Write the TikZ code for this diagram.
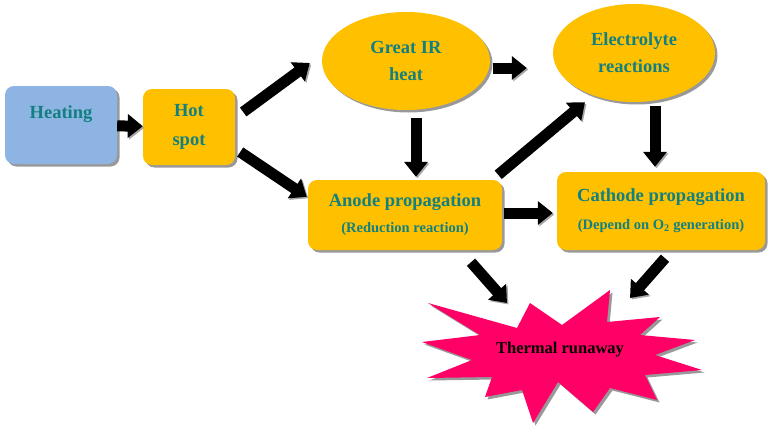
\documentclass[tikz,border=0pt]{standalone}
\usepackage{fontspec}
\setmainfont{Liberation Serif}
\usetikzlibrary{arrows.meta,calc,shapes.geometric,shadows}
\definecolor{boxgold}{RGB}{255,192,0}
\definecolor{heatblue}{RGB}{141,180,226}
\definecolor{labelteal}{RGB}{18,128,128}
\definecolor{burstpink}{RGB}{255,0,102}
\begin{document}
\begin{tikzpicture}[x=1pt,y=-1pt,
  boxshadow/.style={drop shadow={shadow xshift=2.5pt,shadow yshift=-2.5pt,fill=black!40,opacity=1}},
  gbox/.style={boxshadow,rectangle,rounded corners=9pt,fill=boxgold,text=labelteal,align=center,
    font=\fontsize{18.5}{28}\bfseries\selectfont},
  gblob/.style={boxshadow,ellipse,fill=boxgold,text=labelteal,align=center,
    font=\fontsize{18.5}{27}\bfseries\selectfont},
  fat/.style={line width=11pt,-{Triangle[length=15pt,width=23pt]},
    preaction={draw=black!35,transform canvas={shift={(1.5pt,-1.5pt)}}}}]
\useasboundingbox (0,0) rectangle (770,431);
% boxes
\node[gbox,fill=heatblue,minimum width=112pt,minimum height=78pt,text height=12pt,text depth=26pt] (heat) at (61,125) {Heating};
\node[gbox,minimum width=92pt,minimum height=76pt,font=\fontsize{18.5}{29.5}\bfseries\selectfont] (hot) at (189,127) {Hot\\spot};
\node[gblob,minimum width=168pt,minimum height=98pt] (ir) at (406,61) {Great IR\\heat};
\node[gblob,minimum width=162pt,minimum height=98pt] (elec) at (634,53) {Electrolyte\\reactions};
\node[gbox,minimum width=194pt,minimum height=70pt] (anode) at (405,215)
  {Anode propagation\\[-2pt]{\fontsize{14.5}{17}\selectfont (Reduction reaction)}};
\node[gbox,minimum width=208pt,minimum height=78pt] (cath) at (661,211)
  {Cathode propagation\\{\fontsize{14.5}{17}\selectfont (Depend on O\textsubscript{2} generation)}};
% starburst
\fill[burstpink,boxshadow] (428,303) -- (517,328) -- (530,303) -- (562,325) -- (610,290) -- (607,322)
  -- (660,317) -- (640,335) -- (695,340) -- (655,355) -- (702,370) -- (645,375) -- (657,400)
  -- (610,388) -- (593,412) -- (558,382) -- (533,423) -- (522,390) -- (485,397) -- (492,377)
  -- (427,378) -- (472,360) -- (422,342) -- (480,335) -- cycle;
\node[font=\fontsize{16.5}{18}\bfseries\selectfont] (runaway) at (560,350) {Thermal runaway};
% arrows
\draw[fat] (heat) -- (hot);
\draw[fat] ([shift={(8,-15)}]hot.east) -- ([shift={(-12,2)}]ir.west);
\draw[fat] ([shift={(5,25)}]hot.east) -- ([shift={(-1,17)}]anode.north west);
\draw[fat] ([shift={(3,7)}]ir.east) -- ([shift={(-26,15)}]elec.west);
\draw[fat] ([shift={(10,8)}]ir.south) -- ([shift={(11,-3)}]anode.north);
\draw[fat] ([shift={(-4,-5)}]anode.north east) -- ([shift={(-49,0)}]elec.south);
\draw[fat] ([shift={(21,4)}]elec.south) -- ([shift={(-6,-5)}]cath.north);
\draw[fat] ([shift={(2,-2)}]anode.east) -- ([shift={(-4,2)}]cath.west);
\draw[fat] ([shift={(66,12)}]anode.south) -- ([shift={(-53,-47)}]runaway.center);
\draw[fat] ([shift={(4,8)}]cath.south) -- ([shift={(70,-52)}]runaway.center);
\end{tikzpicture}
\end{document}
